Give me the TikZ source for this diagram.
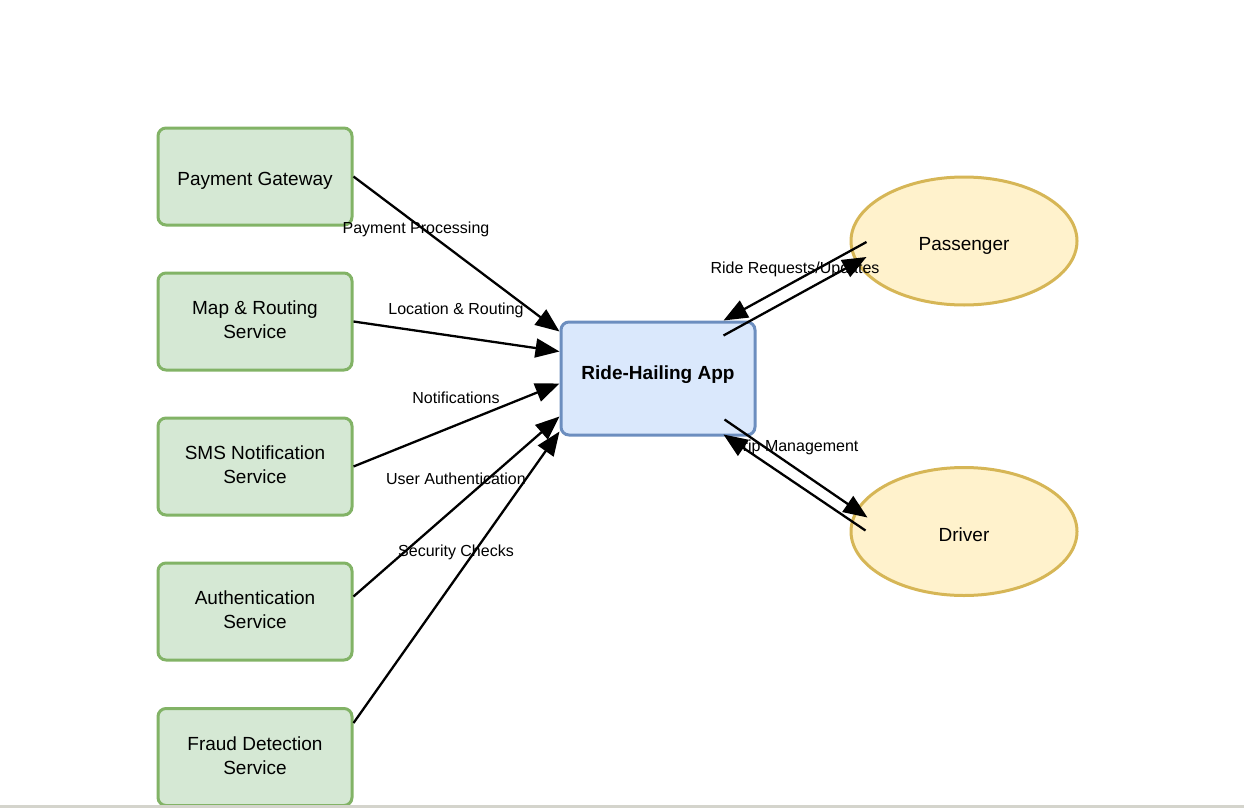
\documentclass[tikz,border=0pt]{standalone}
\usepackage{fontspec}
\setmainfont{Liberation Sans}
\usetikzlibrary{arrows.meta,shapes.geometric,calc}
\definecolor{gfill}{HTML}{D5E8D4}
\definecolor{gline}{HTML}{82B366}
\definecolor{bfill}{HTML}{DAE8FC}
\definecolor{bline}{HTML}{6C8EBF}
\definecolor{yfill}{HTML}{FFF2CC}
\definecolor{yline}{HTML}{D6B656}
\definecolor{strip}{HTML}{D4D4CC}
\tikzset{
  svc/.style={rectangle, rounded corners=8pt, minimum width=194pt, minimum height=97pt,
    draw=gline, fill=gfill, line width=3pt, align=center, inner sep=0pt,
    font=\fontsize{19}{24}\selectfont, text height=34pt, text depth=0pt},
  oneline/.style={text height=#1, text depth=0pt},
  appbox/.style={rectangle, rounded corners=8pt, minimum width=194pt, minimum height=113pt,
    draw=bline, fill=bfill, line width=3pt, align=center, inner sep=0pt,
    font=\fontsize{19}{24}\selectfont\bfseries},
  actor/.style={ellipse, minimum width=226pt, minimum height=128pt, inner sep=0pt,
    draw=yline, fill=yfill, line width=3pt, font=\fontsize{19}{24}\selectfont},
  elabel/.style={inner sep=0pt, font=\fontsize{16}{19}\selectfont},
  arr/.style={line width=2.3pt, -{Triangle[length=24pt,width=19pt]}}
}
\begin{document}
\begin{tikzpicture}[x=1pt,y=-1pt]
\useasboundingbox (0,0) rectangle (1244,808);
\node[svc, oneline=17pt] (pay) at (255,176.5) {Payment Gateway};
\node[svc] (map) at (255,321.5) {Map \& Routing\\Service};
\node[svc] (sms) at (255,466.5) {SMS Notification\\Service};
\node[svc] (auth) at (255,611.5) {Authentication\\Service};
\node[svc] (fraud) at (255,757) {Fraud Detection\\Service};
\node[appbox, oneline=1.6pt] (app) at (658,378.5) {Ride-Hailing App};
\node[actor, oneline=19pt] (pas) at (964,241) {Passenger};
\node[actor, oneline=19pt] (drv) at (964,531.5) {Driver};

\node[elabel] (l1) at (416,229) {Payment Processing};
\node[elabel] (l2) at (456,310) {Location \& Routing};
\node[elabel] (l3) at (456,397.5) {Notifications};
\node[elabel] (l4) at (456,478.5) {User Authentication};
\node[elabel] (l5) at (456,552) {Security Checks};
\node[elabel] (l6) at (795,269) {Ride Requests/Updates};
\node[elabel] (l7) at (796,447) {Trip Management};

\draw[arr] (pay.east) -- ($(app.north west)+(0,11)$);
\draw[arr] (map.east) -- ($(app.north west)+(0,31)$);
\draw[arr] (sms.east) -- ($(app.north west)+(0,63)$);
\draw[arr] ($(auth.east)+(0,-15)$) -- ($(app.north west)+(0,96)$);
\draw[arr] ($(fraud.east)+(0,-34)$) -- ($(app.north west)+(0,111)$);

\draw[arr] ($(pas.west)+(17,1)$) -- ($(app.north east)+(-33,0)$);
\draw[arr] ($(app.north east)+(-33,15)$) -- ($(pas.west)+(17,16)$);
\draw[arr] ($(app.south east)+(-32,-17)$) -- ($(drv.west)+(18,-14)$);
\draw[arr] ($(drv.west)+(16,-1)$) -- ($(app.south east)+(-33,-2)$);

\fill[strip] (0,805) rectangle (1244,808);
\end{tikzpicture}
\end{document}
